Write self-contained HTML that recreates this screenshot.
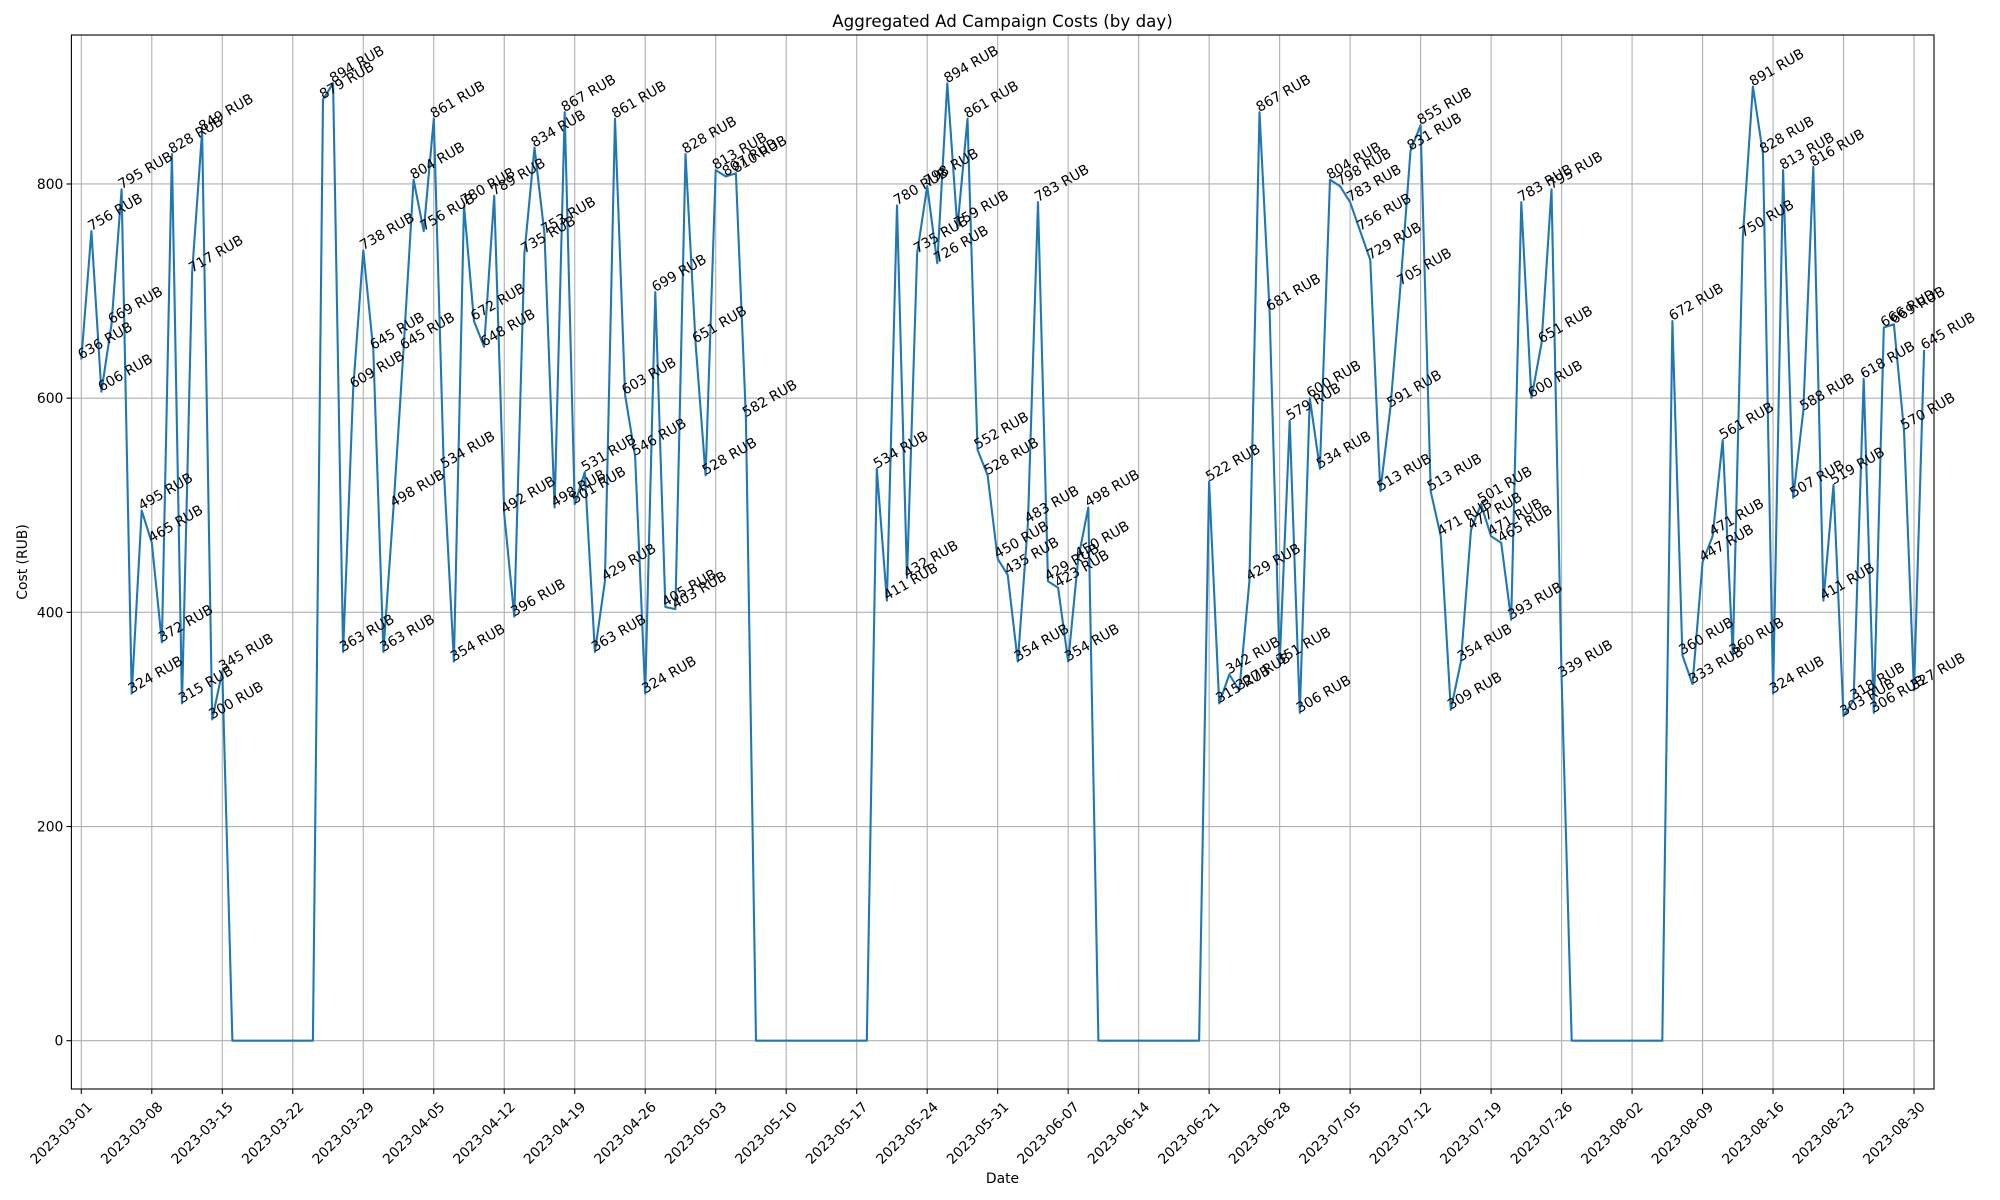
<!DOCTYPE html>
<html><head><meta charset="utf-8"><style>
html,body{margin:0;padding:0;background:#fff;}
svg{display:block;font-family:"DejaVu Sans","Liberation Sans",sans-serif;}
</style></head><body>
<svg id="chart" width="2000" height="1200" viewBox="0 0 2000 1200" xmlns="http://www.w3.org/2000/svg">
<rect width="2000" height="1200" fill="#fff"/>
<text x="1002.5" y="27" font-size="16.7" text-anchor="middle">Aggregated Ad Campaign Costs (by day)</text>
<text x="1002.5" y="1183" font-size="13.9" text-anchor="middle">Date</text>
<text transform="translate(27,562) rotate(-90)" font-size="13.9" text-anchor="middle">Cost (RUB)</text>
<g id="grid"></g><g id="series"></g><g id="labels"></g><g id="axes"></g>
</svg>
<script>
const startDate = "2023-03-01";
const costs = [636,756,606,669,795,324,495,465,372,828,315,717,849,300,345,
0,0,0,0,0,0,0,0,0,
879,894,363,609,738,645,363,498,645,804,756,861,534,354,780,672,648,789,492,396,735,834,753,498,867,501,531,363,429,861,603,546,324,699,405,403,828,651,528,813,807,810,582,
0,0,0,0,0,0,0,0,0,0,0,0,
534,411,780,432,735,798,726,894,759,861,552,528,450,435,354,483,783,429,423,354,450,498,
0,0,0,0,0,0,0,0,0,0,0,
522,315,342,327,429,867,681,351,579,306,600,534,804,798,783,756,729,513,591,705,831,855,513,471,309,354,477,501,471,465,393,783,600,651,795,339,
0,0,0,0,0,0,0,0,0,0,
672,360,333,447,471,561,360,750,891,828,324,813,507,588,816,411,519,303,318,618,306,666,669,570,327,645];
const yTicks = [0,200,400,600,800];
const xTickDays = [0,7,14,21,28,35,42,49,56,63,70,77,84,91,98,105,112,119,126,133,140,147,154,161,168,175,182];

const L=71.4,R=1934,T=35,B=1089;
const X0=81.3, PXD=10.07, Y0=1040.7, PXU=1.0709;
function xs(d){return X0+d*PXD;}
function ys(v){return Y0-v*PXU;}
const NS="http://www.w3.org/2000/svg";
function mk(tag,attrs,parent){const e=document.createElementNS(NS,tag);for(const k in attrs)e.setAttribute(k,attrs[k]);parent.appendChild(e);return e;}
function fmt(d){const t=new Date(Date.UTC(2023,2,1)+d*86400000);return t.toISOString().slice(0,10);}
const grid=document.getElementById('grid'),axes=document.getElementById('axes'),series=document.getElementById('series'),labels=document.getElementById('labels');
yTicks.forEach(v=>{
  const g=mk('line',{x1:L,x2:R,y1:ys(v),y2:ys(v),stroke:'#b0b0b0','stroke-width':1.1},grid);
  
  
  mk('line',{x1:L-4.9,x2:L,y1:ys(v),y2:ys(v),stroke:'#000','stroke-width':1.1},axes);
  const t=mk('text',{x:L-8,y:ys(v)+5,'font-size':13.9,'text-anchor':'end'},axes);
  t.textContent=v;
  
  
});
xTickDays.forEach(d=>{
  const x=xs(d);
  const g=mk('line',{x1:x,x2:x,y1:T,y2:B,stroke:'#b0b0b0','stroke-width':1.1},grid);
  
  
  mk('line',{x1:x,x2:x,y1:B,y2:B+4.9,stroke:'#000','stroke-width':1.1},axes);
  const t=mk('text',{transform:`translate(${x+5},${B+12}) rotate(-45)`,'font-size':13.9,'text-anchor':'end','dominant-baseline':'hanging'},axes);
  t.textContent=fmt(d);
  
  
});
const frame=mk('rect',{x:L,y:T,width:R-L,height:B-T,fill:'none',stroke:'#000','stroke-width':1.1},axes);


const pts=costs.map((v,i)=>xs(i).toFixed(1)+','+ys(v).toFixed(1)).join(' ');
const line=mk('polyline',{points:pts,fill:'none',stroke:'#1f77b4','stroke-width':2.1,'stroke-linejoin':'round'},series);


costs.forEach((v,i)=>{
  if(v<=0)return;
  const t=mk('text',{transform:`translate(${xs(i)},${ys(v)}) rotate(-30)`,'font-size':13.9,fill:'#000'},labels);
  t.textContent=v+' RUB';
  
  
});
</script>
</body></html>
